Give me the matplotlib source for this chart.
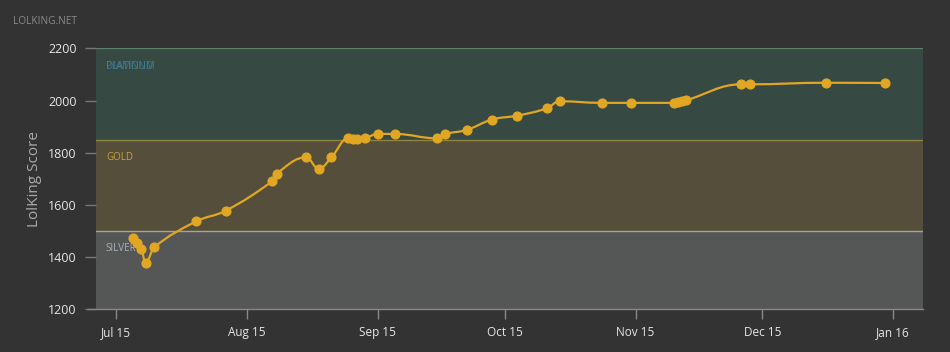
import numpy as np
import pandas as pd
import matplotlib
matplotlib.use("Agg")
import matplotlib.pyplot as plt
import matplotlib.dates as mdates
from matplotlib.path import Path
from matplotlib.patches import PathPatch

plt.rcParams['font.family'] = ['Open Sans', 'DejaVu Sans']

# Score history
dates = ["2015-07-05", "2015-07-06", "2015-07-07", "2015-07-08", "2015-07-10",
         "2015-07-20", "2015-07-27", "2015-08-07", "2015-08-08", "2015-08-15",
         "2015-08-18", "2015-08-21", "2015-08-25", "2015-08-26", "2015-08-27",
         "2015-08-29", "2015-09-01", "2015-09-05", "2015-09-15", "2015-09-17",
         "2015-09-22", "2015-09-28", "2015-10-04", "2015-10-11", "2015-10-14",
         "2015-10-24", "2015-10-31", "2015-11-10", "2015-11-11", "2015-11-12",
         "2015-11-13", "2015-11-26", "2015-11-28", "2015-12-16", "2015-12-30"]
scores = [1472, 1453, 1431, 1378, 1437,
          1537, 1578, 1691, 1720, 1782,
          1738, 1782, 1856, 1853, 1851,
          1856, 1872, 1872, 1855, 1872,
          1887, 1927, 1942, 1970, 1997,
          1991, 1991, 1991, 1993, 1997,
          2001, 2062, 2062, 2068, 2067]

y_ticks = [1200, 1400, 1600, 1800, 2000, 2200]
x_ticks = ["2015-07-01", "2015-08-01", "2015-09-01", "2015-10-01",
           "2015-11-01", "2015-12-01", "2016-01-01"]

bg = '#333333'
line_col = '#e1a723'

fig = plt.figure(figsize=(9.5, 3.52), dpi=100, facecolor=bg)
ax = fig.add_axes([96 / 950, (352 - 309.3) / 352, 826.7 / 950, 261 / 352])
ax.set_facecolor(bg)

xd = mdates.date2num(pd.to_datetime(dates))
ys = np.array(scores, dtype=float)

ax.set_xlim(mdates.date2num(pd.Timestamp("2015-06-26 06:00")),
            mdates.date2num(pd.Timestamp("2016-01-08 00:00")))
ax.set_ylim(1200, 2200)

# tier bands
ax.axhspan(1200, 1500, color='#555656', lw=0, zorder=0)
ax.axhspan(1500, 1850, color='#554e3a', lw=0, zorder=0)
ax.axhspan(1850, 2200, color='#374943', lw=0, zorder=0)
ax.axhline(1500, color='#a8a590', lw=1, zorder=1)
ax.axhline(1850, color='#8f8440', lw=1, zorder=1)
ax.axhline(2200, color='#5d7f6c', lw=1, zorder=1)

lbl = dict(transform=ax.get_yaxis_transform(), fontsize=7, va='center', ha='left')
ax.text(0.012, 1434, "SILVER", color='#aab2ba', **lbl)
ax.text(0.012, 1782, "GOLD", color='#c9a33d', **lbl)
ax.text(0.012, 2131, "PLATINUM", color='#3f8a8a', alpha=0.8, **lbl)
ax.text(0.012, 2131, "DIAMOND", color='#3e7fa8', alpha=0.8, **lbl)


# Highcharts-like spline
def spline_path(x, y, smoothing=1.5):
    denom = smoothing + 1
    n = len(x)
    rcx = [None] * n
    rcy = [None] * n
    verts = [(x[0], y[0])]
    codes = [Path.MOVETO]
    for i in range(1, n):
        px, py = x[i], y[i]
        lx, ly = x[i - 1], y[i - 1]
        lcx, lcy = px, py
        if i < n - 1:
            nx, ny = x[i + 1], y[i + 1]
            lcx = (smoothing * px + lx) / denom
            lcy = (smoothing * py + ly) / denom
            rx = (smoothing * px + nx) / denom
            ry = (smoothing * py + ny) / denom
            corr = (ry - lcy) * (rx - px) / (rx - lcx) + py - ry
            lcy += corr
            ry += corr
            if lcy > ly and lcy > py:
                lcy = max(ly, py)
                ry = 2 * py - lcy
            elif lcy < ly and lcy < py:
                lcy = min(ly, py)
                ry = 2 * py - lcy
            if ry > ny and ry > py:
                ry = max(ny, py)
                lcy = 2 * py - ry
            elif ry < ny and ry < py:
                ry = min(ny, py)
                lcy = 2 * py - ry
            rcx[i], rcy[i] = rx, ry
        c1x = rcx[i - 1] if rcx[i - 1] is not None else lx
        c1y = rcy[i - 1] if rcy[i - 1] is not None else ly
        verts += [(c1x, c1y), (lcx, lcy), (px, py)]
        codes += [Path.CURVE4] * 3
    return Path(verts, codes)


ax.add_patch(PathPatch(spline_path(xd, ys), fill=False, edgecolor=line_col,
                       lw=1.6, zorder=3, capstyle='round', joinstyle='round'))
ax.plot(xd, ys, 'o', color=line_col, ms=6.3, mec=line_col, zorder=4)

for s in ax.spines.values():
    s.set_visible(False)

ax.set_yticks(y_ticks)
ax.set_xticks(mdates.date2num(pd.to_datetime(x_ticks)))
ax.xaxis.set_major_formatter(mdates.DateFormatter('%b %y'))
ax.tick_params(axis='y', colors='#777777', length=8, width=1, labelcolor='#e6e6e6',
               labelsize=9, pad=6)
ax.tick_params(axis='x', colors='#888888', length=7, width=1, labelcolor='#e6e6e6',
               labelsize=8.5, pad=5)
ax.plot([-8 / 826.7, 1], [0, 0], transform=ax.transAxes, color='#888888', lw=1,
        clip_on=False, zorder=5)

ax.set_ylabel("LolKing Score", color='#aaaaaa', fontsize=11, labelpad=4)
fig.text(13 / 950, 1 - 22 / 352, "LOLKING.NET", color='#8a8a8a', fontsize=7.3,
         va='center', ha='left')

fig.savefig("out.png", dpi=100, facecolor=bg)
